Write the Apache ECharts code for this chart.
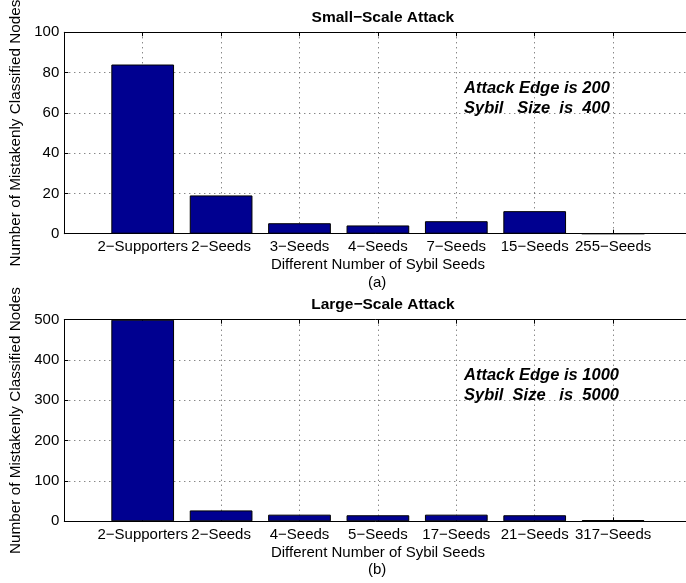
<!DOCTYPE html>
<html><head><meta charset="utf-8">
<script src="https://cdn.jsdelivr.net/npm/echarts@6/dist/echarts.min.js"></script>
<style>html,body{margin:0;padding:0;background:#fff}#c{width:686px;height:583px}</style>
</head><body><div id="c"></div>
<script>
const catsA = ['2−Supporters','2−Seeds','3−Seeds','4−Seeds','7−Seeds','15−Seeds','255−Seeds'];
const valsA = [84, 19, 5.2, 4.1, 6.2, 11.2, 0];
const catsB = ['2−Supporters','2−Seeds','4−Seeds','5−Seeds','17−Seeds','21−Seeds','317−Seeds'];
const valsB = [500, 27, 16.5, 15, 16.5, 15, 3];
const yTicksA = {min:0, max:100, interval:20};
const yTicksB = {min:0, max:500, interval:100};
const titleA = 'Small−Scale Attack', titleB = 'Large−Scale Attack';
const noteA = ['Attack Edge is 200', 'Sybil   Size  is  400'];
const noteB = ['Attack Edge is 1000', 'Sybil  Size   is  5000'];
const xName = 'Different Number of Sybil Seeds';
const yName = 'Number of Mistakenly Classified Nodes';

const FONT = 'Liberation Sans, Arial, sans-serif';
const chart = echarts.init(document.getElementById('c'));
const gridL = 64.3, gridW = 627.2;
const grids = [{top:32.3, h:201.4}, {top:319.7, h:201.6}];

function xAxisFor(i, cats){
  return [{
    gridIndex:i, type:'value', min:0, max:cats.length+1, interval:1,
    axisLine:{show:true, lineStyle:{color:'#000', width:1}},
    axisTick:{show:true, inside:true, length:4, lineStyle:{color:'#000'}},
    axisLabel:{color:'#000', fontFamily:FONT, fontSize:15, margin:6,
      formatter:v => (v>=1 && v<=cats.length) ? cats[v-1] : ''},
    splitLine:{show:true, lineStyle:{type:[1,4], color:'#555', width:1}},
    name:xName, nameLocation:'middle', nameGap:24,
    nameTextStyle:{color:'#000', fontFamily:FONT, fontSize:15}
  },{
    gridIndex:i, type:'value', position:'top', min:0, max:cats.length+1, interval:1,
    axisLine:{show:true, lineStyle:{color:'#000', width:1}},
    axisTick:{show:true, inside:true, length:4, lineStyle:{color:'#000'}},
    axisLabel:{show:false}, splitLine:{show:false}
  }];
}
function yAxisFor(i, t){
  return {
    gridIndex:i, type:'value', min:t.min, max:t.max, interval:t.interval,
    axisLine:{show:true, lineStyle:{color:'#000', width:1}},
    axisTick:{show:true, inside:true, length:4, lineStyle:{color:'#000'}},
    axisLabel:{color:'#000', fontFamily:FONT, fontSize:15, margin:5},
    splitLine:{show:true, lineStyle:{type:[1,4], color:'#555', width:1}},
    name:yName, nameLocation:'middle', nameGap:41,
    nameTextStyle:{color:'#000', fontFamily:FONT, fontSize:15.3}
  };
}
function barSeries(i, vals){
  return {
    type:'bar', xAxisIndex:i*2, yAxisIndex:i, barWidth:'80%',
    data: vals.map((v,k)=>[k+1, v]),
    itemStyle:{color:'#000090', borderColor:'#000', borderWidth:1},
    clip:true, silent:true, animation:false
  };
}
function note(lines, top){
  return lines.map((t,k)=>({type:'text', left:464, top:top+k*20,
    style:{text:t, font:'italic bold 16.5px '+FONT, fill:'#000'}}));
}

chart.setOption({
  animation:false,
  title:[
    {text:titleA, left:gridL+gridW/2, top:5, textAlign:'center',
     textStyle:{fontFamily:FONT, fontSize:15.5, fontWeight:'bold', color:'#000'}},
    {text:titleB, left:gridL+gridW/2, top:292, textAlign:'center',
     textStyle:{fontFamily:FONT, fontSize:15.5, fontWeight:'bold', color:'#000'}}
  ],
  grid: grids.map(g=>({left:gridL, top:g.top, width:gridW, height:g.h, show:false,
    containLabel:false, outerBoundsMode:'none'})),
  xAxis: [...xAxisFor(0, catsA), ...xAxisFor(1, catsB)],
  yAxis: [yAxisFor(0, yTicksA), yAxisFor(1, yTicksB)],
  series: [barSeries(0, valsA), barSeries(1, valsB)],
  graphic: [
    ...note(noteA, 80), ...note(noteB, 367),
    {type:'text', left:gridL+gridW/2-10, top:275, style:{text:'(a)', font:'15px '+FONT, fill:'#000'}},
    {type:'text', left:gridL+gridW/2-10, top:562, style:{text:'(b)', font:'15px '+FONT, fill:'#000'}}
  ]
});
</script></body></html>
